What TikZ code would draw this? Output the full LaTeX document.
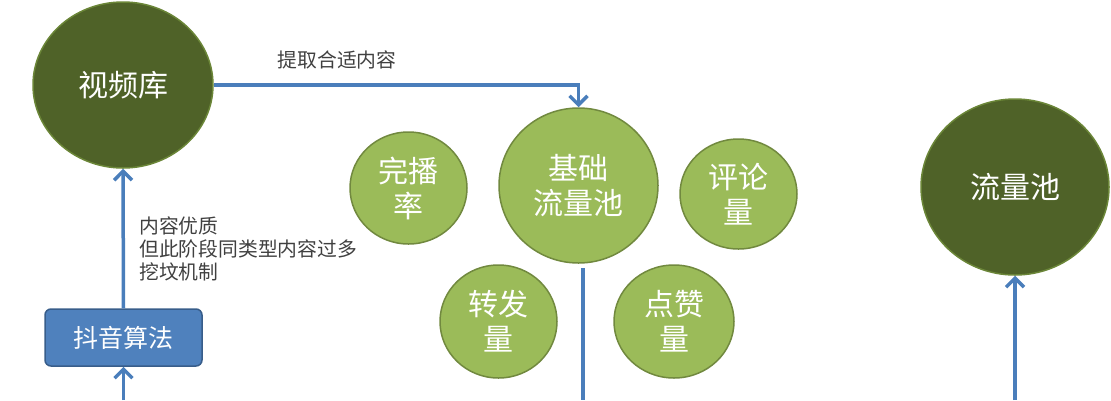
\documentclass[tikz,border=0pt]{standalone}
\usepackage{fontspec}
\newfontfamily\cjk{Noto Sans CJK SC}
\usetikzlibrary{shapes.geometric,arrows.meta}
\definecolor{darkg}{HTML}{4F6228}
\definecolor{dgborder}{HTML}{6B8638}
\definecolor{lightg}{HTML}{9BBB59}
\definecolor{lgborder}{HTML}{71893F}
\definecolor{lineblue}{HTML}{4A7EBB}
\definecolor{boxblue}{HTML}{4F81BD}
\definecolor{boxborder}{HTML}{385D8A}
\definecolor{txt}{HTML}{404040}
\begin{document}
\begin{tikzpicture}[x=1pt,y=-1pt,
  darkcircle/.style={ellipse,fill=darkg,draw=dgborder,line width=1.5pt,inner sep=0pt,text=white,
    font=\cjk\fontsize{30}{35}\selectfont,align=center},
  lightcircle/.style={ellipse,fill=lightg,draw=lgborder,line width=1.5pt,inner sep=0pt,text=white,
    font=\cjk\fontsize{30}{35}\selectfont,align=center},
  algobox/.style={rectangle,rounded corners=6pt,fill=boxblue,draw=boxborder,line width=1.5pt,
    inner sep=0pt,text=white,font=\cjk\fontsize{25}{28}\selectfont,minimum width=157pt,minimum height=57pt},
  lbl/.style={text=txt,font=\cjk\fontsize{19.8}{23}\selectfont,inner sep=0pt,align=left},
  conn/.style={draw=lineblue,line width=3.5pt,-{Straight Barb[length=9pt,width=18pt,line width=3.5pt]}},
  plainline/.style={draw=lineblue,line width=3.5pt}
]
\useasboundingbox (0,0) rectangle (1111,400);

\node[darkcircle,minimum width=180pt,minimum height=166pt] (lib) at (123,85) {视频库};
\node[darkcircle,minimum width=188pt,minimum height=176pt] (pool) at (1015,187) {流量池};
\node[lightcircle,minimum width=159pt,minimum height=155pt] (base) at (578.5,185.5) {基础\\流量池};
\node[lightcircle,minimum width=117pt,minimum height=112pt] (wanbo) at (408.5,188) {完播\\率};
\node[lightcircle,minimum width=117pt,minimum height=110pt] (pinglun) at (738.5,194) {评论\\量};
\node[lightcircle,minimum width=117pt,minimum height=113pt] (zhuanfa) at (498.5,321.5) {转发\\量};
\node[lightcircle,minimum width=120pt,minimum height=113pt] (dianzan) at (674,321.5) {点赞\\量};
\node[algobox] (algo) at (123.5,337.5) {抖音算法};

\node[lbl] (l1) at (337,60) {提取合适内容};
\node[lbl,anchor=west] (l2) at (139,249) {内容优质\\但此阶段同类型内容过多\\挖坟机制};

\coordinate (in1) at (123.5,400);
\coordinate (in2) at (1015,400);
\coordinate (b1) at (583,268);
\coordinate (b2) at (583,400);

\draw[conn] (lib.east) -| (base.north);
\draw[conn] (algo.north) -- (lib.south);
\draw[conn] (in1) -- (algo.south);
\draw[conn] (in2) -- (pool.south);
\draw[plainline] (b1) -- (b2);
\end{tikzpicture}
\end{document}
